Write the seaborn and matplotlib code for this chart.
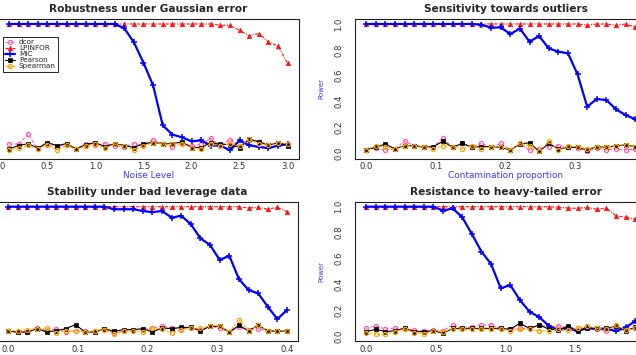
import matplotlib
matplotlib.use("Agg")
import matplotlib.pyplot as plt
import seaborn as sns
import numpy as np

# ---- data ----
methods = ["dcor", "LPINFOR", "MIC", "Pearson", "Spearman"]

noise_level = np.round(np.linspace(0.1, 3.0, 30), 2)
contam_prop = np.linspace(0, 0.4, 30)
leverage_prop = np.linspace(0, 0.4, 30)
tail_level = np.linspace(0, 2, 30)

# Robustness under Gaussian error
gauss_dcor = [0.072, 0.072, 0.147, 0.034, 0.075, 0.052, 0.068, 0.033, 0.075, 0.062,
              0.075, 0.06, 0.05, 0.075, 0.062, 0.106, 0.075, 0.05, 0.083, 0.055,
              0.07, 0.116, 0.055, 0.106, 0.055, 0.10, 0.09, 0.068, 0.075, 0.075]
gauss_lpinfor = [1.0] * 22 + [0.99, 0.99, 0.95, 0.91, 0.925, 0.86, 0.83, 0.695]
gauss_mic = [1.0] * 12 + [0.967, 0.858, 0.70, 0.525, 0.217, 0.145, 0.124, 0.093, 0.10,
                          0.06, 0.06, 0.023, 0.10, 0.062, 0.05, 0.04, 0.06, 0.07]
gauss_pearson = [0.034, 0.06, 0.075, 0.04, 0.083, 0.06, 0.075, 0.034, 0.068, 0.083,
                 0.05, 0.075, 0.06, 0.045, 0.075, 0.083, 0.075, 0.075, 0.088, 0.045,
                 0.045, 0.083, 0.07, 0.068, 0.045, 0.111, 0.088, 0.062, 0.083, 0.06]
gauss_spearman = [0.026, 0.04, 0.062, 0.034, 0.068, 0.026, 0.062, 0.034, 0.055, 0.07,
                  0.04, 0.07, 0.055, 0.026, 0.055, 0.083, 0.07, 0.07, 0.075, 0.045,
                  0.034, 0.075, 0.055, 0.075, 0.055, 0.11, 0.075, 0.062, 0.083, 0.075]

# Sensitivity towards outliers
out_dcor = [0.026, 0.041, 0.026, 0.034, 0.093, 0.059, 0.052, 0.052, 0.119, 0.046,
            0.077, 0.052, 0.077, 0.046, 0.077, 0.026, 0.072, 0.026, 0.034, 0.052,
            0.059, 0.052, 0.041, 0.015, 0.041, 0.026, 0.034, 0.026, 0.034, 0.03]
out_lpinfor = [1.0] * 23 + [0.99, 1.0, 1.0, 0.99, 1.0, 0.975, 0.96]
out_mic = [1.0] * 12 + [0.995, 0.971, 0.974, 0.922, 0.965, 0.863, 0.907, 0.811, 0.786,
                        0.773, 0.61, 0.361, 0.42, 0.412, 0.34, 0.296, 0.263, 0.22]
out_pearson = [0.028, 0.046, 0.072, 0.034, 0.059, 0.059, 0.046, 0.052, 0.093, 0.046,
               0.077, 0.046, 0.052, 0.052, 0.046, 0.026, 0.072, 0.082, 0.015, 0.077,
               0.034, 0.046, 0.046, 0.026, 0.052, 0.046, 0.059, 0.064, 0.052, 0.05]
out_spearman = [0.026, 0.059, 0.052, 0.034, 0.059, 0.059, 0.052, 0.034, 0.059, 0.052,
                0.034, 0.059, 0.034, 0.052, 0.052, 0.026, 0.077, 0.059, 0.015, 0.093,
                0.026, 0.059, 0.052, 0.034, 0.052, 0.046, 0.059, 0.067, 0.052, 0.05]

# Stability under bad leverage data
lev_dcor = [0.036, 0.031, 0.031, 0.062, 0.041, 0.057, 0.031, 0.041, 0.041, 0.031,
            0.057, 0.023, 0.036, 0.049, 0.049, 0.062, 0.075, 0.062, 0.057, 0.062,
            0.049, 0.075, 0.062, 0.031, 0.067, 0.049, 0.057, 0.041, 0.041, 0.041]
lev_lpinfor = [1.0] * 25 + [0.99, 0.995, 0.98, 0.995, 0.961]
lev_mic = [1.0] * 11 + [0.98, 0.98, 0.98, 0.967, 0.957, 0.967, 0.915, 0.93, 0.864,
                        0.755, 0.704, 0.588, 0.621, 0.441, 0.356, 0.33, 0.227, 0.131, 0.201]
lev_pearson = [0.036, 0.031, 0.031, 0.057, 0.031, 0.041, 0.057, 0.088, 0.031, 0.031,
               0.057, 0.036, 0.049, 0.049, 0.057, 0.031, 0.062, 0.057, 0.067, 0.067,
               0.041, 0.075, 0.075, 0.031, 0.082, 0.041, 0.082, 0.041, 0.036, 0.041]
lev_spearman = [0.041, 0.041, 0.049, 0.057, 0.062, 0.023, 0.041, 0.036, 0.031, 0.041,
                0.049, 0.015, 0.041, 0.036, 0.031, 0.062, 0.057, 0.023, 0.049, 0.06,
                0.06, 0.08, 0.08, 0.031, 0.126, 0.041, 0.082, 0.041, 0.041, 0.041]

# Resistance to heavy-tailed error
tail_dcor = [0.059, 0.077, 0.054, 0.059, 0.059, 0.046, 0.041, 0.046, 0.041, 0.085,
             0.059, 0.072, 0.085, 0.085, 0.059, 0.052, 0.059, 0.059, 0.085, 0.072,
             0.077, 0.059, 0.059, 0.059, 0.052, 0.041, 0.059, 0.052, 0.059, 0.055]
tail_lpinfor = [1.0] * 20 + [0.995, 0.99, 0.987, 0.995, 0.98, 0.987, 0.93, 0.918, 0.905, 0.89]
tail_mic = [1.0] * 8 + [0.969, 0.987, 0.918, 0.789, 0.652, 0.557, 0.369, 0.394, 0.278,
                        0.188, 0.147, 0.08, 0.046, 0.06, 0.038, 0.062, 0.054, 0.057,
                        0.037, 0.066, 0.115, 0.13]
tail_pearson = [0.034, 0.052, 0.034, 0.041, 0.059, 0.034, 0.034, 0.041, 0.021, 0.059,
                0.059, 0.059, 0.059, 0.059, 0.059, 0.052, 0.098, 0.059, 0.085, 0.054,
                0.046, 0.077, 0.041, 0.059, 0.059, 0.059, 0.077, 0.041, 0.067, 0.06]
tail_spearman = [0.026, 0.015, 0.015, 0.034, 0.052, 0.026, 0.015, 0.041, 0.034, 0.052,
                 0.052, 0.052, 0.052, 0.052, 0.052, 0.041, 0.052, 0.052, 0.041, 0.041,
                 0.052, 0.046, 0.059, 0.077, 0.059, 0.052, 0.085, 0.046, 0.059, 0.06]

# ---- styling ----
sns.set_style("white")
plt.rcParams["font.family"] = ["DejaVu Sans"]

pink, red, blue, orange = "#ff5fb0", "#ff1010", "#0000ff", "#ffa500"
styles = {
    "dcor":     dict(color=pink, marker="o", ms=3, mfc="none", mec=pink, mew=0.9,
                     lw=0.8, ls=(0, (3, 1.5))),
    "LPINFOR":  dict(color=red, marker="^", ms=3.2, mfc=red, mec=red, mew=0.5,
                     lw=0.8, ls=(0, (3, 1.2, 1, 1.2))),
    "MIC":      dict(color=blue, marker="+", ms=4, mec=blue, mew=1.1, lw=1.6, ls="-"),
    "Pearson":  dict(color="black", marker="s", ms=2.6, mfc="black", mec="black", mew=0.5,
                     lw=0.8, ls="-"),
    "Spearman": dict(color=orange, marker="o", ms=3, mfc="none", mec=orange, mew=0.9,
                     lw=0.8, ls=(0, (2, 1.5))),
}

panels = [
    ("Robustness under Gaussian error", noise_level, "Noise Level",
     [gauss_dcor, gauss_lpinfor, gauss_mic, gauss_pearson, gauss_spearman],
     (-0.016, 3.116), np.arange(0, 3.01, 0.5), (-2.2, 18.8)),
    ("Sensitivity towards outliers", contam_prop, "Contamination proportion",
     [out_dcor, out_lpinfor, out_mic, out_pearson, out_spearman],
     (-0.016, 0.416), np.arange(0, 0.41, 0.1), (355, 18.8)),
    ("Stability under bad leverage data", leverage_prop, None,
     [lev_dcor, lev_lpinfor, lev_mic, lev_pearson, lev_spearman],
     (-0.016, 0.416), np.arange(0, 0.41, 0.1), (-2.9, 201.5)),
    ("Resistance to heavy-tailed error", tail_level, None,
     [tail_dcor, tail_lpinfor, tail_mic, tail_pearson, tail_spearman],
     (-0.08, 2.08), np.arange(0, 2.01, 0.5), (355, 201.5)),
]

W, H = 636, 355
AW, AH = 301, 139.7
fig = plt.figure(figsize=(W / 100, H / 100), dpi=100)

for k, (title, xs, xlab, series, xlim, xticks, (lx, ty)) in enumerate(panels):
    ax = fig.add_axes([lx / W, 1 - (ty + AH) / H, AW / W, AH / H])
    for name, ys in zip(methods, series):
        sns.lineplot(x=xs, y=ys, ax=ax, label=name, legend=False, **styles[name])
    ax.set_xlim(*xlim)
    ax.set_ylim(-0.04, 1.04)
    ax.set_xticks(xticks)
    ax.set_xticklabels([f"{t:.1f}" for t in xticks])
    ax.set_yticks(np.arange(0, 1.01, 0.2))
    ax.set_yticklabels([f"{t:.1f}" for t in np.arange(0, 1.01, 0.2)],
                       rotation=90, va="center")
    ax.tick_params(axis="both", direction="out", length=2.5, width=0.6, color="#333333",
                   labelsize=6.1, labelcolor="#333333")
    ax.tick_params(axis="x", pad=0.3)
    ax.tick_params(axis="y", pad=6)
    for sp in ax.spines.values():
        sp.set_color("#222222")
        sp.set_linewidth(0.8)
    ax.set_title(title, fontsize=7.6, fontweight="bold", y=1 + 9.5 / AH, pad=0,
                 va="center")
    if xlab:
        ax.set_xlabel(xlab, color="#3b3bff", fontsize=6.4)
        ax.xaxis.set_label_coords(0.5, -17 / AH)
        ax.xaxis.label.set_verticalalignment("center")
    else:
        ax.set_xlabel("")
    ax.set_ylabel("Power", color="#3b3bff", fontsize=5)
    ax.yaxis.set_label_coords(-34 / AW, 0.5)
    ax.yaxis.label.set_verticalalignment("center")
    if k == 0:
        leg = ax.legend(loc="upper left", bbox_to_anchor=(5.2 / AW, (158.5 - 37) / AH),
                        borderaxespad=0, fontsize=5.2, labelspacing=0.0,
                        handlelength=1.4, handletextpad=0.5, borderpad=0.3,
                        fancybox=False, framealpha=1, edgecolor="black")
        leg.get_frame().set_linewidth(0.6)

fig.savefig("out.png", dpi=100)
